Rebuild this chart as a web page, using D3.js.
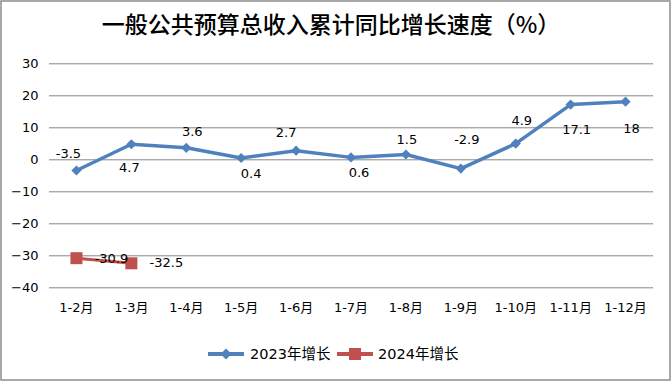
<!DOCTYPE html>
<html><head><meta charset="utf-8">
<script src="https://cdn.jsdelivr.net/npm/d3@7"></script>
<style>html,body{margin:0;padding:0;background:#fff;}svg{display:block;}</style>
</head><body>
<svg id="chart" width="672" height="382"></svg>
<script>
const title = "一般公共预算总收入累计同比增长速度（%）";
const categories = ["1-2月","1-3月","1-4月","1-5月","1-6月","1-7月","1-8月","1-9月","1-10月","1-11月","1-12月"];
const series2023 = [-3.5, 4.7, 3.6, 0.4, 2.7, 0.6, 1.5, -2.9, 4.9, 17.1, 18];
const series2024 = [-30.9, -32.5];
const seriesNames = ["2023年增长", "2024年增长"];
const yTicks = [30, 20, 10, 0, -10, -20, -30, -40];
// label placement offsets (style only)
const off2023 = [[-8,-17],[-2,23],[6,-16],[10,15],[-10,-18],[8,15],[1,-15],[6,-29],[6,-23],[6,25],[6,27]];
const off2024 = [[35,0],[35,-1]];

const svg = d3.select("#chart");
const blue = "#4F81BD", red = "#C0504D";
const font = "'DejaVu Sans', 'Noto Sans CJK SC', sans-serif";

svg.append("rect").attr("x",1).attr("y",1).attr("width",669).attr("height",379)
  .attr("fill","#fff").attr("stroke","#8c8c8c").attr("stroke-width",1.5);

svg.append("text").attr("x",331).attr("y",33).attr("text-anchor","middle")
  .attr("font-family","'Noto Sans CJK SC', sans-serif").attr("font-weight",500)
  .attr("font-size",23).attr("fill","#000").text(title);

const x = d3.scaleBand().domain(categories).range([49,653]);
const y = d3.scaleLinear().domain([-40,30]).range([287.3,63.3]);

const yAxis = d3.axisLeft(y).tickValues(yTicks).tickSize(-(653-49)).tickFormat(d3.format("d"));
const gy = svg.append("g").attr("transform","translate(49,0)").call(yAxis);
gy.select(".domain").remove();
gy.selectAll(".tick line").attr("stroke","#868686").attr("stroke-width",1);
gy.selectAll(".tick text").attr("x",-10.5).attr("font-family",font).attr("font-size",13).attr("fill","#000");

const xAxis = d3.axisBottom(x).tickSize(0).tickPadding(0);
const gx = svg.append("g").attr("transform","translate(0,303)").call(xAxis);
gx.select(".domain").remove();
gx.selectAll(".tick text").attr("font-family",font).attr("font-size",13).attr("fill","#000").attr("dy","0.71em");

const cx = c => x(c) + x.bandwidth()/2;
const line = d3.line().x(d => cx(d.c)).y(d => y(d.v));

const d23 = categories.map((c,i)=>({c, v: series2023[i], o: off2023[i]}));
const d24 = series2024.map((v,i)=>({c: categories[i], v, o: off2024[i]}));

svg.append("path").datum(d23).attr("d",line).attr("fill","none").attr("stroke",blue)
  .attr("stroke-width",3.5).attr("stroke-linejoin","round");
svg.append("path").datum(d24).attr("d",line).attr("fill","none").attr("stroke",red)
  .attr("stroke-width",3).attr("stroke-linejoin","round");

svg.selectAll(".m23").data(d23).join("path")
  .attr("d", d3.symbol().type(d3.symbolSquare).size(52))
  .attr("transform", d => `translate(${cx(d.c)},${y(d.v)}) rotate(45)`)
  .attr("fill",blue);
svg.selectAll(".m24").data(d24).join("rect")
  .attr("x", d => cx(d.c)-6).attr("y", d => y(d.v)-6).attr("width",12).attr("height",12)
  .attr("fill",red);

const labels = d23.concat(d24);
svg.selectAll(".lbl").data(labels).join("text")
  .attr("x", d => cx(d.c)+d.o[0]).attr("y", d => y(d.v)+d.o[1])
  .attr("dy","0.36em").attr("text-anchor","middle")
  .attr("font-family",font).attr("font-size",13).attr("fill","#000")
  .text(d => d.v);

// legend
const leg = [{name: seriesNames[0], color: blue, x0: 208, tx: 250, type:"d"},
             {name: seriesNames[1], color: red, x0: 337, tx: 378, type:"s"}];
const lg = svg.append("g");
leg.forEach(l => {
  lg.append("line").attr("x1",l.x0).attr("x2",l.x0+36).attr("y1",354).attr("y2",354)
    .attr("stroke",l.color).attr("stroke-width",4);
  if (l.type === "d") {
    lg.append("path").attr("d", d3.symbol().type(d3.symbolSquare).size(60))
      .attr("transform",`translate(${l.x0+18},354) rotate(45)`).attr("fill",l.color);
  } else {
    lg.append("rect").attr("x",l.x0+18-6).attr("y",348).attr("width",12).attr("height",12).attr("fill",l.color);
  }
  lg.append("text").attr("x",l.tx).attr("y",354).attr("dy","0.36em")
    .attr("font-family",font).attr("font-size",14.5).attr("fill","#000").text(l.name);
});
</script>
</body></html>
